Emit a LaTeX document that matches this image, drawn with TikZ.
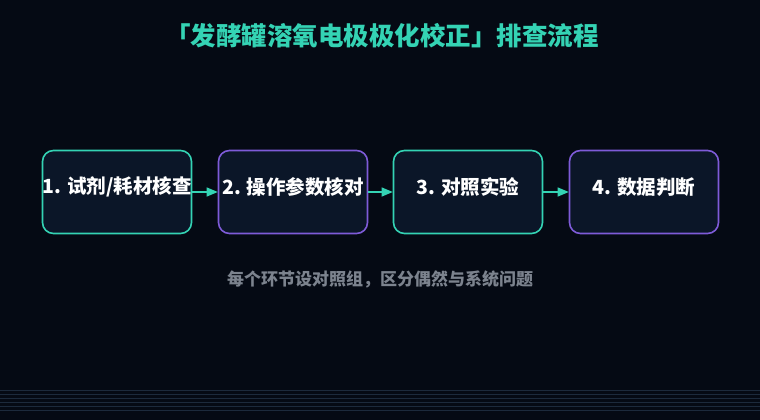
\documentclass[tikz,border=0pt]{standalone}
\usepackage{fontspec}
\setmainfont{Noto Sans CJK SC}
\usepackage{tikz}
\usetikzlibrary{positioning}
\usetikzlibrary{arrows}
\usetikzlibrary{calc}

\definecolor{bgdark}{HTML}{050A14}
\definecolor{boxfill}{HTML}{0B1628}
\definecolor{tealc}{HTML}{34D3B4}
\definecolor{purplec}{HTML}{7E5BD8}
\definecolor{greytext}{HTML}{7C838E}
\definecolor{gridline}{HTML}{1C2A3C}

\tikzset{
  stepbox/.style={draw, line width=1.6pt, rounded corners=11pt, fill=boxfill,
    minimum width=149pt, minimum height=83pt, inner sep=0pt},
  steptext/.style={text=white, font=\bfseries\fontsize{19.5}{23}\selectfont, inner sep=0pt},
  flowarrow/.style={-triangle 45, draw=tealc, fill=tealc, line width=1.6pt}
}

\begin{document}
\begin{tikzpicture}[x=1pt,y=-1pt]
			% Background and bounding box
			\fill[bgdark] (0,0) rectangle (760,420);
			\useasboundingbox (0,0) rectangle (760,420);

			% Bottom lines
			\foreach \y in {390,394,398,402,406,410}
			\draw[gridline, line width=0.6pt] (0,\y) -- (760,\y);

			% Title
			\node[text=tealc, font=\bfseries\fontsize{25.5}{30}\selectfont] (title) at (382,36) {「发酵罐溶氧电极极化校正」排查流程};

			% Draw the boxes
			\node[stepbox, draw=tealc] (s1) at (117,192) {};
			\node[stepbox, draw=purplec] (s2) at (293,192) {};
			\node[stepbox, draw=tealc] (s3) at (468,192) {};
			\node[stepbox, draw=purplec] (s4) at (644,192) {};

			% Box texts
			\foreach \n/\txt in {s1/{1. 试剂/耗材核查}, s2/{2. 操作参数核对}, s3/{3. 对照实验}, s4/{4. 数据判断}}
			\node[steptext] at ($(\n.center)+(0,-5)$) {\txt};

			% Draw the arrows
			\draw[flowarrow] (s1.east) -- (s2.west);
			\draw[flowarrow] (s2.east) -- (s3.west);
			\draw[flowarrow] (s3.east) -- (s4.west);

			% Note
			\node[text=greytext, font=\bfseries\fontsize{17}{20}\selectfont] (note) at (380,279) {每个环节设对照组，区分偶然与系统问题};
\end{tikzpicture}
\end{document}
